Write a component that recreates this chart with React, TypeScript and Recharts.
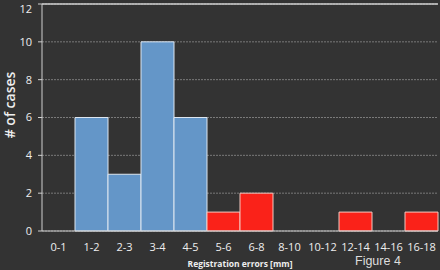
import { Bar, BarChart, CartesianGrid, Cell, Label, ReferenceLine, XAxis, YAxis } from 'recharts';

const ranges = ['0-1', '1-2', '2-3', '3-4', '4-5', '5-6', '6-8', '8-10', '10-12', '12-14', '14-16', '16-18'];
const cases = [0, 6, 3, 10, 6, 1, 2, 0, 0, 1, 0, 1];
// first five bins are 1 mm wide (blue), the rest 2 mm wide (red)
const groups = ['fine', 'fine', 'fine', 'fine', 'fine', 'coarse', 'coarse', 'coarse', 'coarse', 'coarse', 'coarse', 'coarse'];
const yTicks = [0, 2, 4, 6, 8, 10, 12];

const colors: Record<string, string> = { fine: '#6496c8', coarse: '#fa2219' };
const data = ranges.map((r, i) => ({ range: r, cases: cases[i], group: groups[i] }));

const font = '"Open Sans", "Liberation Sans", sans-serif';
const light = '#d0d0d0';

// y tick label; the top one sits on the chart's edge, keep it inside
const YTick = (props: any) => {
  const { x, y, payload } = props;
  return (
    <text x={x} y={Math.max(y, 6.5)} dy="0.355em" textAnchor="end" fill="#eeeeee" fontSize={11} fontFamily={font}>
      {payload.value}
    </text>
  );
};

export default function App() {
  return (
    <div style={{ position: 'absolute', left: 0, top: 0, width: 440, height: 270, background: '#333333' }}>
      <BarChart
        width={440}
        height={270}
        data={data}
        barCategoryGap={0}
        margin={{ top: 4, right: 2, left: 0, bottom: 21 }}
      >
        <CartesianGrid vertical={false} stroke="#7a7a7a" strokeDasharray="2 1" />
        <XAxis
          dataKey="range"
          interval={0}
          tickLine={false}
          axisLine={{ stroke: light }}
          height={18}
          tick={{ fill: '#eeeeee', fontSize: 11, fontFamily: font }}
          tickMargin={6}
        >
          <Label
            value="Registration errors [mm]"
            position="insideBottom"
            offset={-18}
            style={{ fill: '#eeeeee', fontSize: 8.5, fontWeight: 'bold', fontFamily: font }}
          />
        </XAxis>
        <YAxis
          width={42}
          domain={[0, 12]}
          ticks={yTicks}
          tickSize={4}
          tickMargin={6}
          axisLine={{ stroke: light }}
          tickLine={{ stroke: light }}
          tick={<YTick />}
        >
          <Label
            value="# of cases"
            content={() => (
              <text
                x={9}
                y={105}
                transform="rotate(-90, 9, 105)"
                textAnchor="middle"
                dominantBaseline="central"
                fill="#eeeeee"
                fontSize={14}
                fontWeight={600}
                fontFamily={font}
              >
                # of cases
              </text>
            )}
          />
        </YAxis>
        <YAxis yAxisId="right" orientation="right" width={0} tick={false} axisLine={{ stroke: light }} />
        <ReferenceLine y={12} stroke={light} strokeWidth={1.5} />
        <Bar dataKey="cases" stroke="#dde6f0" strokeWidth={1} isAnimationActive={false}>
          {data.map((d, i) => (
            <Cell key={i} fill={colors[d.group]} stroke={d.group === 'fine' ? '#dde6f0' : '#f4c8c0'} />
          ))}
        </Bar>
      </BarChart>
      <div
        style={{
          position: 'absolute',
          left: 355,
          top: 254,
          fontFamily: '"Liberation Sans", Arial, sans-serif',
          fontSize: 12.5,
          color: '#dddddd',
          lineHeight: '15px',
        }}
      >
        Figure 4
      </div>
    </div>
  );
}
